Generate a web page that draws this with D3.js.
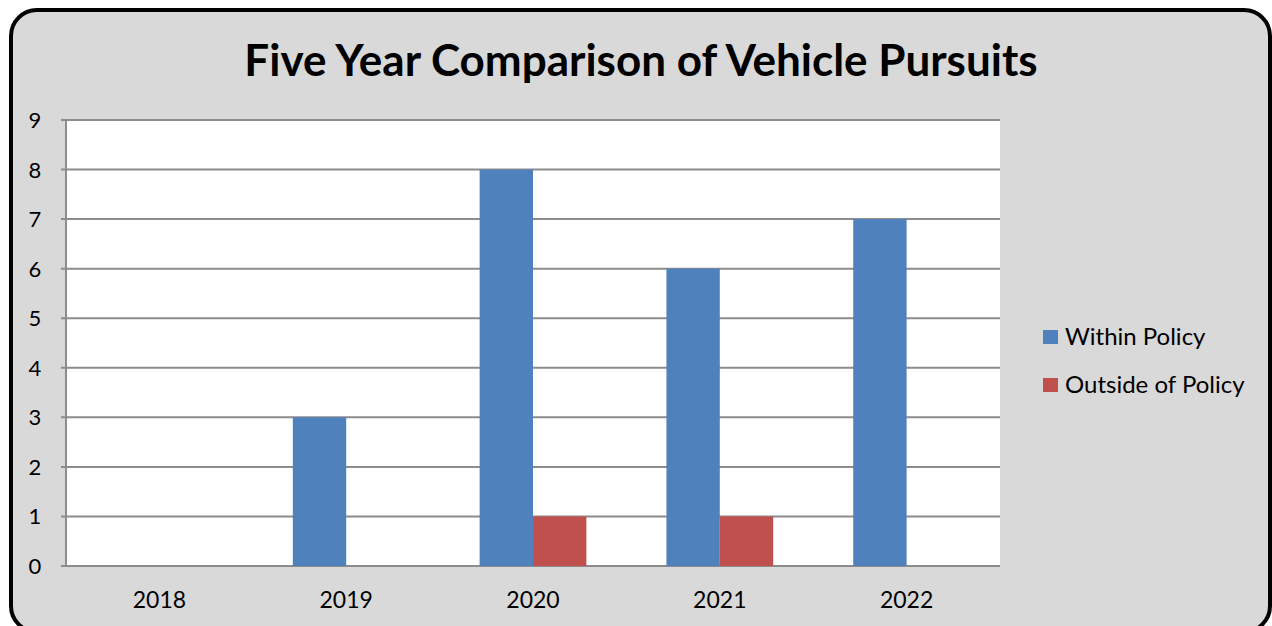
<!DOCTYPE html>
<html><head><meta charset="utf-8">
<script src="https://cdn.jsdelivr.net/npm/d3@7"></script>
<style>body{margin:0;background:#fff;overflow:hidden}svg{display:block}</style>
</head><body>
<script>
const title = "Five Year Comparison of Vehicle Pursuits";
const categories = ["2018","2019","2020","2021","2022"];
const seriesNames = ["Within Policy","Outside of Policy"];
const withinPolicy = [0,3,8,6,7];
const outsidePolicy = [0,0,1,1,0];
const yTicks = [0,1,2,3,4,5,6,7,8,9];
const colors = ["#4f81bd","#c0504d"];

const W = 1272, H = 626;
const font = "Lato, 'Open Sans', sans-serif";
const svg = d3.select("body").append("svg").attr("width", W).attr("height", H);

svg.append("rect").attr("x",11).attr("y",10).attr("width",1259).attr("height",622)
  .attr("rx",26).attr("ry",26).attr("fill","#d9d9d9").attr("stroke","#000").attr("stroke-width",4);

svg.append("text").attr("x",641).attr("y",76).attr("text-anchor","middle")
  .attr("font-family",font).attr("font-weight","bold").attr("font-size",44).attr("fill","#000").text(title);

const plot = {x0:66, x1:1000, y0:120, y1:566};
const x = d3.scaleBand().domain(categories).range([plot.x0, plot.x1]).paddingInner(0).paddingOuter(0);
const y = d3.scaleLinear().domain([0,9]).range([plot.y1, plot.y0]);

svg.append("rect").attr("x",plot.x0).attr("y",plot.y0).attr("width",plot.x1-plot.x0).attr("height",plot.y1-plot.y0).attr("fill","#fff");

const grid = svg.append("g");
grid.selectAll("line").data(yTicks).join("line")
  .attr("x1",plot.x0-5).attr("x2",plot.x1).attr("y1",d=>y(d)).attr("y2",d=>y(d))
  .attr("stroke","#8c8c8c").attr("stroke-width",2);
svg.append("line").attr("x1",plot.x0).attr("x2",plot.x0).attr("y1",plot.y0).attr("y2",plot.y1)
  .attr("stroke","#8c8c8c").attr("stroke-width",2);

const bw = x.bandwidth();
const barW = bw / (2 + 1.5);
const series = [withinPolicy, outsidePolicy];
series.forEach((vals, si) => {
  svg.append("g").selectAll("rect").data(categories).join("rect")
    .attr("x", (c) => x(c) + bw/2 - barW + si*barW)
    .attr("width", barW)
    .attr("y", (c,i) => y(vals[i]))
    .attr("height", (c,i) => y(0) - y(vals[i]))
    .attr("fill", colors[si]);
});

svg.append("g").selectAll("text").data(yTicks).join("text")
  .attr("x",35).attr("y",d=>y(d)+8).attr("text-anchor","middle")
  .attr("font-family",font).attr("font-size",22).attr("fill","#000").text(d=>d);

svg.append("g").selectAll("text").data(categories).join("text")
  .attr("x",c=>x(c)+bw/2).attr("y",608).attr("text-anchor","middle")
  .attr("font-family",font).attr("font-size",23).attr("fill","#000").text(c=>c);

const leg = svg.append("g");
seriesNames.forEach((n,i) => {
  const ly = 337 + i*48;
  leg.append("rect").attr("x",1043).attr("y",ly-7).attr("width",15).attr("height",14).attr("fill",colors[i]);
  leg.append("text").attr("x",1065).attr("y",ly+8).attr("font-family",font).attr("font-size",24).attr("fill","#000").text(n);
});
</script>
</body></html>
